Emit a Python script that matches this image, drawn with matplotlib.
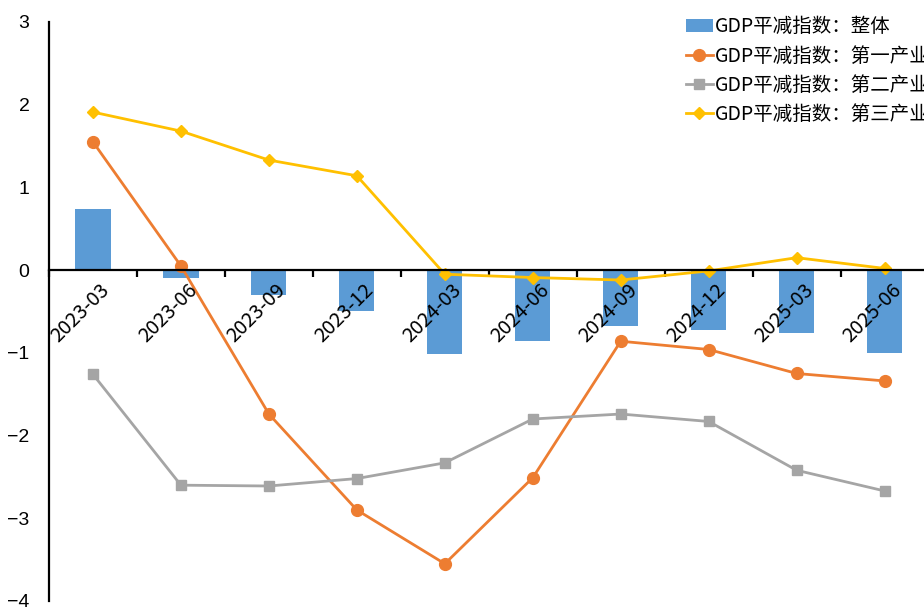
import matplotlib
matplotlib.use("Agg")
import matplotlib.pyplot as plt
import numpy as np

plt.rcParams["font.family"] = ["Noto Sans CJK SC", "DejaVu Sans"]

quarters = ["2023-03", "2023-06", "2023-09", "2023-12", "2024-03",
            "2024-06", "2024-09", "2024-12", "2025-03", "2025-06"]
deflator_total = [0.74, -0.09, -0.30, -0.50, -1.01, -0.86, -0.68, -0.73, -0.76, -1.00]
deflator_primary = [1.55, 0.05, -1.74, -2.90, -3.55, -2.51, -0.86, -0.96, -1.25, -1.34]
deflator_secondary = [-1.26, -2.60, -2.61, -2.52, -2.33, -1.80, -1.74, -1.83, -2.42, -2.67]
deflator_tertiary = [1.91, 1.68, 1.33, 1.14, -0.05, -0.09, -0.12, -0.01, 0.15, 0.02]

labels = ["GDP平减指数：整体", "GDP平减指数：第一产业",
          "GDP平减指数：第二产业", "GDP平减指数：第三产业"]

x = np.arange(len(quarters))

fig = plt.figure(figsize=(9.24, 6.07), dpi=100)
ax = fig.add_axes([0.053, 0.0099, 0.952, 0.954])

bars = ax.bar(x, deflator_total, width=0.4, color="#5B9BD5", label=labels[0], zorder=2)
l1, = ax.plot(x, deflator_primary, color="#ED7D31", lw=2, marker="o", ms=8.5,
              label=labels[1], zorder=3)
l2, = ax.plot(x, deflator_secondary, color="#A5A5A5", lw=2, marker="s", ms=7,
              label=labels[2], zorder=3)
l3, = ax.plot(x, deflator_tertiary, color="#FFC000", lw=2, marker="D", ms=6,
              label=labels[3], zorder=4)

ax.set_xlim(-0.5, len(quarters) - 0.5)
ax.set_ylim(-4, 3)

for side in ["top", "right"]:
    ax.spines[side].set_visible(False)
ax.spines["bottom"].set_position(("data", 0))
ax.spines["bottom"].set_linewidth(1.6)
ax.spines["bottom"].set_zorder(5)
ax.spines["left"].set_linewidth(1.6)

# category boundaries get the tick marks, labels sit at the centres
ax.set_xticks(x)
ax.set_xticklabels([])
ax.tick_params(axis="x", which="major", length=0)
ax.set_xticks(np.arange(len(quarters) + 1) - 0.5, minor=True)
ax.tick_params(axis="x", which="minor", direction="out", length=5, width=1.6)
for i, q in enumerate(quarters):
    ax.text(i + 0.07, -0.12, q, rotation=45, ha="right", va="top",
            rotation_mode="anchor", fontsize=14.5, zorder=6)

ax.set_yticks(range(-4, 4))
ax.set_yticklabels([str(v).replace("-", "\u2212") for v in range(-4, 4)],
                   family="Liberation Sans")
ax.tick_params(axis="y", length=0, labelsize=14, pad=14)

fig.legend([bars, l1, l2, l3], labels, loc="upper left",
           bbox_to_anchor=(0.742, 0.973), frameon=False,
           fontsize=14, handlelength=1.4, handletextpad=0.1, labelspacing=0.42,
           borderaxespad=0, borderpad=0)

fig.savefig("out.png", dpi=100)
